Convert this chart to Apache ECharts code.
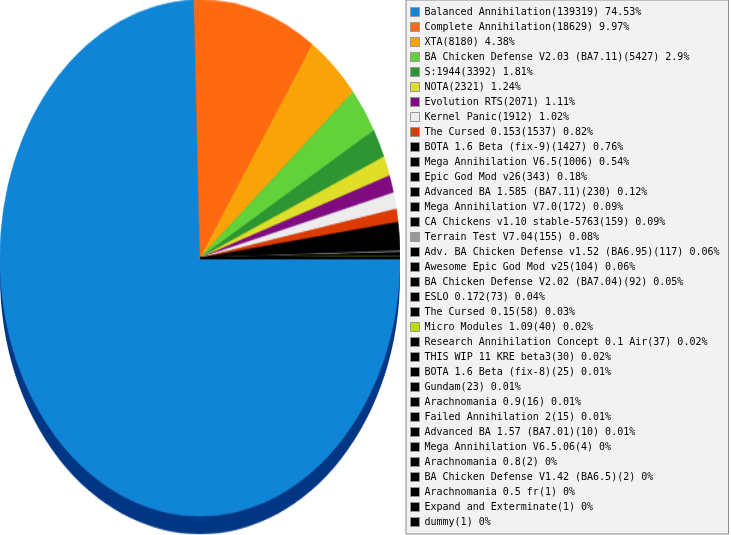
<!DOCTYPE html>
<html>
<head>
<meta charset="utf-8">
<script src="https://cdn.jsdelivr.net/npm/echarts@6/dist/echarts.min.js"></script>
<style>
  html, body { margin: 0; padding: 0; background: #fff; }
  #wrap { position: relative; width: 731px; height: 535px; overflow: hidden; }
  /* pie is drawn as a circle, then stretched vertically into the ellipse */
  #pie { position: absolute; left: 0; top: 0; width: 400px; height: 415px;
         transform: scaleY(1.29); transform-origin: 0 0; }
  #legend { position: absolute; left: 0; top: 0; width: 731px; height: 600px; }
</style>
</head>
<body>
<div id="wrap">
  <div id="pie"></div>
  <div id="legend"></div>
</div>
<script>
// mods and number of games played
const modNames = [
  'Balanced Annihilation', 'Complete Annihilation', 'XTA',
  'BA Chicken Defense V2.03 (BA7.11)', 'S:1944', 'NOTA', 'Evolution RTS',
  'Kernel Panic', 'The Cursed 0.153', 'BOTA 1.6 Beta (fix-9)',
  'Mega Annihilation V6.5', 'Epic God Mod v26', 'Advanced BA 1.585 (BA7.11)',
  'Mega Annihilation V7.0', 'CA Chickens v1.10 stable-5763', 'Terrain Test V7.04',
  'Adv. BA Chicken Defense v1.52 (BA6.95)', 'Awesome Epic God Mod v25',
  'BA Chicken Defense V2.02 (BA7.04)', 'ESLO 0.172', 'The Cursed 0.15',
  'Micro Modules 1.09', 'Research Annihilation Concept 0.1 Air',
  'THIS WIP 11 KRE beta3', 'BOTA 1.6 Beta (fix-8)', 'Gundam', 'Arachnomania 0.9',
  'Failed Annihilation 2', 'Advanced BA 1.57 (BA7.01)', 'Mega Annihilation V6.5.06',
  'Arachnomania 0.8', 'BA Chicken Defense V1.42 (BA6.5)', 'Arachnomania 0.5 fr',
  'Expand and Exterminate', 'dummy'
];
const gameCounts = [
  139319, 18629, 8180, 5427, 3392, 2321, 2071, 1912, 1537, 1427,
  1006, 343, 230, 172, 159, 155, 117, 104, 92, 73,
  58, 40, 37, 30, 25, 23, 16, 15, 10, 4,
  2, 2, 1, 1, 1
];
const sliceColors = [
  '#1085d6', '#ff6a10', '#f9a308', '#62d13a', '#2e9533', '#dfdf29', '#800b80',
  '#ececec', '#dd3a00', '#000000', '#000000', '#000000', '#000000', '#000000',
  '#000000', '#999999', '#000000', '#000000', '#000000', '#000000', '#000000',
  '#bbdd00', '#000000', '#000000', '#000000', '#000000', '#000000', '#000000',
  '#000000', '#000000', '#000000', '#000000', '#000000', '#000000', '#000000'
];

let total = 0;
for (let v of gameCounts) total += v;

let pieData = [];
for (let i = 0; i < modNames.length; i++) {
  pieData.push({
    name: modNames[i],
    value: gameCounts[i],
    itemStyle: { color: sliceColors[i], borderColor: sliceColors[i], borderWidth: 0.6 }
  });
}

let pieChart = echarts.init(document.getElementById('pie'));
pieChart.setOption({
  animation: false,
  series: [
    {
      // dark "depth" under the pie
      type: 'pie',
      silent: true,
      center: [200, 214],
      radius: 200,
      label: { show: false },
      labelLine: { show: false },
      data: [{ value: 1, itemStyle: { color: '#003684' } }]
    },
    {
      type: 'pie',
      center: [200, 200],
      radius: 200,
      startAngle: 0,
      clockwise: true,
      minAngle: 0,
      avoidLabelOverlap: false,
      label: { show: false },
      labelLine: { show: false },
      emphasis: { disabled: true },
      data: pieData
    }
  ]
});

let legendChart = echarts.init(document.getElementById('legend'));
legendChart.setOption({
  animation: false,
  legend: {
    orient: 'vertical',
    left: 406,
    top: 0,
    padding: [7, 9, 7, 4],
    itemWidth: 9,
    itemHeight: 9,
    itemGap: 5,
    icon: 'rect',
    backgroundColor: '#f2f2f2',
    borderColor: '#8c8c8c',
    borderWidth: 1,
    itemStyle: { borderColor: '#999999', borderWidth: 1 },
    selectedMode: false,
    textStyle: {
      fontFamily: 'DejaVu Sans Mono',
      fontSize: 10,
      lineHeight: 9,
      color: '#000'
    },
    formatter: function (name) {
      let idx = modNames.indexOf(name);
      let v = gameCounts[idx];
      let pct = parseFloat((v / total * 100).toFixed(2));
      return name + '(' + v + ') ' + pct + '%';
    },
    data: modNames
  },
  series: [{
    type: 'pie',
    center: [-500, -500],
    radius: 1,
    label: { show: false },
    data: pieData
  }]
});
</script>
</body>
</html>
